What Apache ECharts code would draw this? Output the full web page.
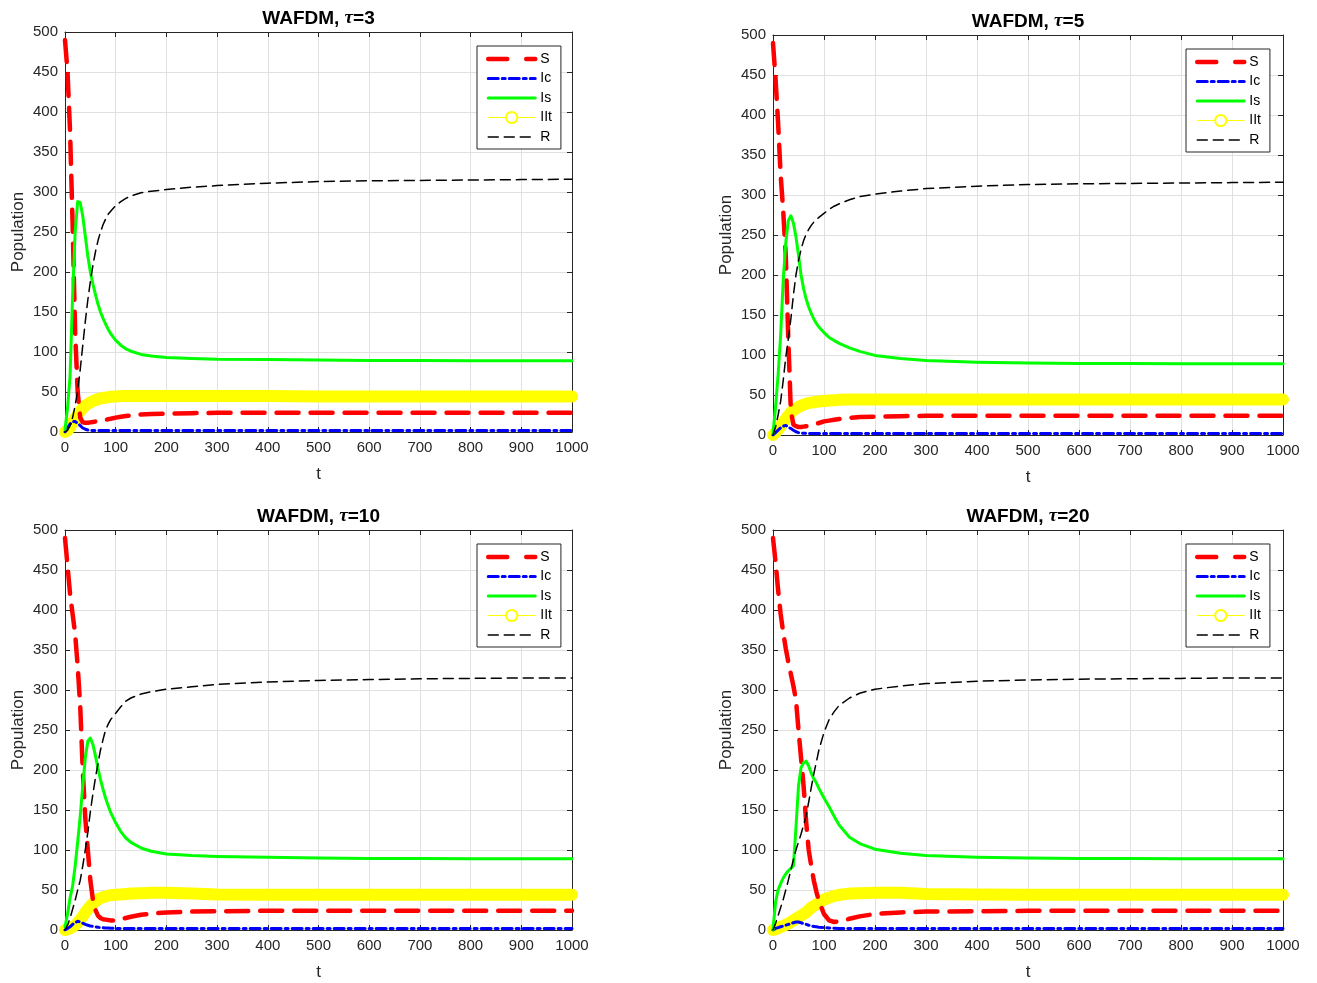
<!DOCTYPE html>
<html>
<head>
<meta charset="utf-8">
<script src="https://cdn.jsdelivr.net/npm/echarts@6.0.0/dist/echarts.min.js"></script>
<style>
html, body { margin: 0; padding: 0; background: #fff; }
#chart { width: 1317px; height: 983px; }
</style>
</head>
<body>
<div id="chart"></div>
<script>
// sample times (t), shared by every curve
const tGrid = [0, 5, 10, 15, 20, 25, 30, 35, 40, 45, 50, 55, 60, 65, 70, 75, 80, 85, 90, 100,
  110, 120, 130, 150, 170, 200, 250, 300, 400, 500, 600, 700, 800, 900, 1000];

// tau = 3
const s3 = [490, 450, 375, 260, 125, 50, 18, 12, 11.5, 11.5, 12, 12.5, 13, 13.5, 14, 14.5, 15, 16, 16.5, 18,
  19, 20, 20.5, 22, 22.5, 23, 23.5, 24, 24, 24, 24, 24, 24, 24, 24];
const ic3 = [0, 5, 10, 13, 13, 11, 8, 5, 3.5, 2.5, 2, 2, 2, 2, 2, 2, 2, 2, 2, 2,
  2, 2, 2, 2, 2, 2, 2, 2, 2, 2, 2, 2, 2, 2, 2];
const is3 = [3, 30, 70, 170, 250, 288, 287, 270, 245, 220, 200, 185, 172, 160, 150, 142, 135, 128.5, 123, 114.5,
  108.5, 104, 101, 97, 95, 93, 92, 91, 90.5, 90, 89.5, 89.5, 89, 89, 89];
const iit3 = [0, 2, 6, 12, 17, 22, 26, 30, 33, 35, 37, 38.5, 40, 41, 42, 42.5, 43, 43.5, 44, 44.5,
  45, 45, 45, 45, 45, 45, 45, 45, 45, 44.5, 44.5, 44.5, 44.5, 44.5, 44.5];
const r3 = [0, 2, 8, 18, 33, 52, 78, 108, 138, 165, 188, 208, 225, 239, 250, 259, 266, 272, 276, 283,
  288, 292, 295, 299, 301, 303, 306, 308, 311, 313, 314, 314.5, 315, 315.5, 316];

// tau = 5
const s5 = [490, 445, 390, 325, 280, 225, 120, 30, 13, 11, 10, 10, 10.5, 11, 11.5, 12, 13, 14, 15, 17,
  18, 19, 20, 21.5, 22.5, 23, 23.5, 24, 24, 24, 24, 24, 24, 24, 24];
const ic5 = [0, 3, 6, 9, 11, 12, 10, 8, 6, 4, 3, 2.5, 2.2, 2, 2, 2, 2, 2, 2, 2,
  2, 2, 2, 2, 2, 2, 2, 2, 2, 2, 2, 2, 2, 2, 2];
const is5 = [2, 35, 75, 125, 193, 240, 268, 274, 265, 248, 225, 200, 183, 170, 160, 152, 145, 139.5, 135, 128,
  122, 118, 114.5, 109, 104.5, 99.5, 95.5, 93, 91, 90, 89.5, 89.5, 89, 89, 89];
const iit5 = [0, 3, 7, 11, 16, 20, 24, 28, 31, 33, 35, 36.5, 38, 39, 40, 40.5, 41, 41.5, 42, 42.5,
  43, 43.5, 44, 44.5, 44.5, 44.5, 44.5, 44.5, 44.5, 44.5, 44.5, 44.5, 44.5, 44.5, 44.5];
const r5 = [0, 10, 25, 42, 68, 97, 120, 145, 175, 200, 218, 232, 243, 251, 257, 262, 266, 269, 272, 277,
  282, 286, 289, 294, 298, 301, 305, 308, 311, 313, 314, 314.5, 315, 315.5, 316];

// tau = 10
const s10 = [490, 455, 420, 395, 370, 330, 280, 200, 140, 100, 62, 38, 25, 18, 15, 13.5, 13, 12.5, 12, 12,
  13.5, 15, 16.5, 19, 20.5, 22, 23, 23.5, 24, 24, 24, 24, 24, 24, 24];
const ic10 = [0, 2, 4, 7, 9, 11, 10, 8.5, 7, 6, 5, 4.5, 4, 3.5, 3, 2.8, 2.6, 2.4, 2.2, 2,
  2, 2, 2, 2, 2, 2, 2, 2, 2, 2, 2, 2, 2, 2, 2];
const is10 = [4, 20, 40, 55, 80, 110, 142, 180, 215, 236, 240, 232, 218, 202, 188, 176, 165, 155.5, 147, 134,
  123, 115, 109.5, 102.5, 98.5, 95, 93, 92, 91, 90, 89.5, 89.5, 89, 89, 89];
const iit10 = [0, 1, 2, 4, 6, 9, 13, 17, 22, 26, 30, 33, 36, 38, 40, 41, 42, 43, 43.5, 44,
  44.5, 45, 45.5, 46, 46.5, 46.5, 45.5, 44.5, 44, 44, 44, 44, 44, 44, 44];
const r10 = [0, 6, 15, 26, 37, 50, 62, 80, 100, 122, 148, 170, 190, 208, 225, 238, 250, 257, 263, 271,
  279, 286, 290, 295, 298, 301, 304, 307, 310, 312, 313, 314, 314.5, 315, 315];

// tau = 20
const s20 = [490, 460, 425, 395, 372, 352, 335, 320, 305, 288, 250, 215, 180, 135, 100, 80, 62, 48, 36, 20,
  12, 10, 11, 14, 17, 20, 22, 23, 23.5, 24, 24, 24, 24, 24, 24];
const ic20 = [0, 2, 3, 4, 5, 6, 7, 8, 9, 10, 10, 9, 8, 7, 6, 5, 4.5, 4, 3.5, 3,
  2.5, 2.2, 2, 2, 2, 2, 2, 2, 2, 2, 2, 2, 2, 2, 2];
const is20 = [0, 35, 50, 58, 65, 70, 74, 77, 80, 128, 180, 203, 209, 211, 205, 196, 189, 184, 177, 165,
  154, 142, 131, 116, 108, 101, 96, 93, 91, 90, 89.5, 89.5, 89, 89, 89];
const iit20 = [0, 1, 2, 4, 5, 6.5, 8, 10, 12, 14, 16, 18, 20, 22, 25, 28, 30, 32, 34, 38,
  40.5, 42.5, 44, 45.5, 46, 46.5, 46.5, 45, 44.5, 44, 44, 44, 44, 44, 44];
const r20 = [0, 8, 18, 28, 38, 50, 62, 75, 88, 100, 110, 120, 131, 143, 160, 178, 195, 210, 225, 247,
  263, 273, 281, 290, 296, 301, 305, 308, 311, 312.5, 313.5, 314, 314.5, 315, 315];

const taus = [3, 5, 10, 20];
const xTicks = { min: 0, max: 1000, step: 100 };
const yTicks = { min: 0, max: 500, step: 50 };
const panelData = [
  { S: s3, Ic: ic3, Is: is3, IIt: iit3, R: r3 },
  { S: s5, Ic: ic5, Is: is5, IIt: iit5, R: r5 },
  { S: s10, Ic: ic10, Is: is10, IIt: iit10, R: r10 },
  { S: s20, Ic: ic20, Is: is20, IIt: iit20, R: r20 }
];

// layout of the four panels
const boxes = [
  { left: 65, top: 32, width: 507, height: 400, legendLeft: 477, legendTop: 46 },
  { left: 773, top: 35, width: 510, height: 400, legendLeft: 1186, legendTop: 49 },
  { left: 65, top: 530, width: 507, height: 400, legendLeft: 477, legendTop: 544 },
  { left: 773, top: 530, width: 510, height: 400, legendLeft: 1186, legendTop: 544 }
];

const FONT = 'Liberation Sans, Arial, sans-serif';
const AX = '#262626';
const styles = {
  S: { color: '#ff0000', width: 4.5, type: [22, 12] },
  Ic: { color: '#0000ff', width: 3, type: [10, 4, 3, 4] },
  Is: { color: '#00ff00', width: 3, type: 'solid' },
  IIt: { color: '#ffff00', width: 12, type: 'solid' },
  R: { color: '#000000', width: 1.5, type: [10, 6] }
};
const drawOrder = ['IIt', 'S', 'Ic', 'Is', 'R'];

const chart = echarts.init(document.getElementById('chart'));

const grid = [], xAxis = [], yAxis = [], series = [], title = [], legend = [];

boxes.forEach((b, k) => {
  grid.push({ left: b.left, top: b.top, width: b.width, height: b.height, show: false });

  const tick = { inside: true, length: 5, lineStyle: { color: AX, width: 1 } };
  const line = { show: true, onZero: false, lineStyle: { color: AX, width: 1 } };

  xAxis.push({
    gridIndex: k, type: 'value', position: 'bottom',
    min: xTicks.min, max: xTicks.max, interval: xTicks.step,
    name: 't', nameLocation: 'middle', nameGap: 34,
    nameTextStyle: { fontSize: 17, color: AX, fontFamily: FONT },
    axisLine: line, axisTick: tick,
    axisLabel: { fontSize: 15, color: AX, margin: 8, fontFamily: FONT, showMinLabel: true, showMaxLabel: true,
      formatter: v => String(v) },
    splitLine: { show: true, lineStyle: { color: '#e0e0e0', width: 1 } }
  });
  xAxis.push({
    gridIndex: k, type: 'value', position: 'top',
    min: xTicks.min, max: xTicks.max, interval: xTicks.step,
    axisLine: line, axisTick: tick, axisLabel: { show: false }, splitLine: { show: false }
  });
  yAxis.push({
    gridIndex: k, type: 'value', position: 'left',
    min: yTicks.min, max: yTicks.max, interval: yTicks.step,
    name: 'Population', nameLocation: 'middle', nameGap: 38, nameRotate: 90,
    nameTextStyle: { fontSize: 17, color: AX, fontFamily: FONT },
    axisLine: line, axisTick: tick,
    axisLabel: { fontSize: 15, color: AX, margin: 7, fontFamily: FONT, showMinLabel: true, showMaxLabel: true,
      formatter: v => String(v) },
    splitLine: { show: true, lineStyle: { color: '#e0e0e0', width: 1 } }
  });
  yAxis.push({
    gridIndex: k, type: 'value', position: 'right',
    min: yTicks.min, max: yTicks.max, interval: yTicks.step,
    axisLine: line, axisTick: tick, axisLabel: { show: false }, splitLine: { show: false }
  });

  title.push({
    text: '{b|WAFDM, }{i|τ}{b|=' + taus[k] + '}',
    left: b.left + b.width / 2, top: b.top - 23, textAlign: 'center', padding: 0,
    textStyle: {
      rich: {
        b: { fontSize: 19, fontWeight: 'bold', fontFamily: FONT, color: '#000' },
        i: { fontSize: 19, fontStyle: 'italic', fontFamily: 'Liberation Serif, serif', color: '#000' }
      }
    }
  });

  legend.push({
    orient: 'vertical', left: b.legendLeft, top: b.legendTop,
    padding: [6, 9, 5, 9], itemWidth: 47, itemHeight: 14, itemGap: 5.5,
    backgroundColor: '#fff', borderColor: AX, borderWidth: 1, borderRadius: 0,
    selectedMode: false,
    textStyle: { fontSize: 14, color: '#000', fontFamily: FONT },
    data: [
      { name: 'S', itemStyle: { opacity: 0 }, lineStyle: { width: 4.5, type: [19, 19] } },
      { name: 'Ic', itemStyle: { opacity: 0 }, lineStyle: { width: 3 } },
      { name: 'Is', itemStyle: { opacity: 0 }, lineStyle: { width: 3 } },
      { name: 'IIt', lineStyle: { width: 1 } },
      { name: 'R', itemStyle: { opacity: 0 }, lineStyle: { width: 1.5 } }
    ]
  });

  const d = panelData[k];
  drawOrder.forEach((name, j) => {
    const st = styles[name];
    series.push({
      type: 'line', name: name,
      xAxisIndex: 2 * k, yAxisIndex: 2 * k,
      data: tGrid.map((t, i) => [t, d[name][i]]),
      symbol: name === 'IIt' ? 'emptyCircle' : 'none',
      showSymbol: false,
      smooth: false,
      clip: name !== 'IIt',
      z: 2 + j,
      silent: true,
      itemStyle: { color: st.color },
      lineStyle: { color: st.color, width: st.width, type: st.type, cap: 'round', join: 'round' }
    });
  });
});

chart.setOption({
  animation: false,
  backgroundColor: '#fff',
  title: title,
  legend: legend,
  grid: grid,
  xAxis: xAxis,
  yAxis: yAxis,
  series: series
});
</script>
</body>
</html>
